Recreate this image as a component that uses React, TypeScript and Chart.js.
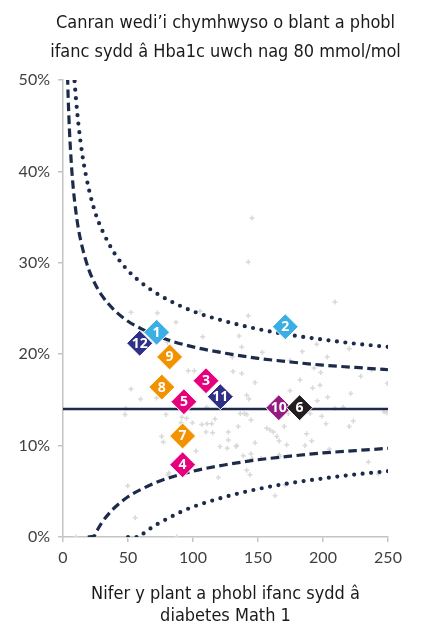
import React, { useEffect, useRef } from "react";
import { Chart, registerables } from "chart.js";

Chart.register(...registerables);

const titleLines = ["Canran wedi’i chymhwyso o blant a phobl", "ifanc sydd â Hba1c uwch nag 80 mmol/mol"];
const xTitleLines = ["Nifer y plant a phobl ifanc sydd â", "diabetes Math 1"];

// Units (providers), numbered diamonds
const providerLabels = ["12", "1", "2", "3", "11", "4", "5", "7", "8", "9", "10", "6"];
const providerN = [59, 72, 171, 110, 121, 92, 93, 92, 76, 82, 166, 182];
const providerPct = [21.2, 22.4, 23.0, 17.1, 15.35, 7.9, 14.8, 11.05, 16.4, 19.7, 14.15, 14.15];
const providerColors = ["#2E2F86", "#3BAEE3", "#3BAEE3", "#E6007E", "#2E2F86", "#E6007E", "#E6007E", "#F39200", "#F39200", "#F39200", "#951B81", "#231F20"];

// National mean
const meanN = [0, 250];
const meanPct = [14, 14];

// 95% limits (dashed)
const upper95N = [3.5, 4, 5, 6, 7, 8, 10, 12, 15, 20, 25, 30, 40, 50, 60, 75, 100, 125, 150, 175, 200, 225, 250];
const upper95Pct = [50.4, 48.0, 44.4, 41.8, 39.7, 38.0, 35.5, 33.6, 31.6, 29.2, 27.6, 26.4, 24.75, 23.6, 22.8, 21.85, 20.8, 20.1, 19.55, 19.15, 18.8, 18.55, 18.3];
const lower95N = [19, 24, 25, 27, 30, 35, 40, 50, 60, 75, 100, 125, 150, 175, 200, 225, 250];
const lower95Pct = [0, 0.1, 0.4, 0.9, 1.6, 2.5, 3.25, 4.4, 5.2, 6.15, 7.2, 7.9, 8.45, 8.85, 9.2, 9.45, 9.7];

// 99.8% limits (dotted)
const upper998N = [8.5, 9, 10, 12, 15, 20, 25, 30, 40, 50, 60, 75, 100, 125, 150, 175, 200, 225, 250];
const upper998Pct = [50.8, 49.7, 47.9, 45.0, 41.7, 38.0, 35.4, 33.6, 30.95, 29.15, 27.85, 26.4, 24.7, 23.6, 22.75, 22.1, 21.6, 21.15, 20.8];
const lower998N = [50, 59, 62, 65, 70, 75, 90, 100, 125, 150, 175, 200, 225, 250];
const lower998Pct = [0, 0, 0.4, 0.7, 1.2, 1.6, 2.7, 3.3, 4.4, 5.25, 5.9, 6.4, 6.85, 7.2];

// Other units (grey crosses)
const otherN = [52.3, 72.6, 86.9, 52.3, 59.7, 72, 48.2, 47.7, 79.2, 80.3, 96.4, 101, 91.5, 90.8, 106.7, 110.5, 114.4, 116.9, 110, 115.1,
  75.9, 77.2, 127.2, 127.2, 120.8, 133.6, 147.7, 134.8, 141.3, 130.8, 137.5, 147.7, 182.3, 184.1, 187.4, 166.4, 156.7, 161.8, 164.4, 172.1,
  145.2, 141.3, 143.8, 142.5, 107.5, 119.5, 153.3, 130.2, 174.6, 141.3, 143, 136.4, 139.5, 173.3, 174.6, 209.2, 195.1, 220.2, 203.3, 193.1,
  198.2, 237.4, 229, 197.7, 192, 249.5, 221.3, 203.6, 195.6, 209.2, 215.6, 246.9, 249, 190, 199, 81.5, 80.8, 49.8, 55.6, 9.8,
  87.5, 119.5, 163.1, 170.8, 234.9, 242.6, 95.1, 99.5, 110.8, 144.6, 159.2, 170.2, 166.2, 102.3, 144.6, 138.7, 152.3, 166.9, 202.3, 223.3,
  220.2, 191.3, 186.2, 204.9, 105.4, 135.4, 137.5, 145.4, 142.5, 126.4, 133.1];
const otherPct = [24.6, 24.5, 23.5, 16.2, 15.1, 15.2, 14.1, 13.4, 13.4, 21.3, 18.2, 18.2, 13.1, 12.5, 12.3, 14.2, 12.4, 12.9, 11.5, 11.4,
  11.0, 10.4, 11.5, 10.6, 9.9, 10.0, 10.3, 12.1, 13.4, 18.1, 17.9, 16.9, 17.2, 20.3, 11.3, 9.0, 11.9, 11.5, 11.0, 10.1,
  8.6, 7.3, 6.8, 24.2, 21.9, 20.3, 20.2, 19.7, 19.3, 15.5, 15.1, 13.5, 13.5, 13.5, 16.0, 25.7, 21.1, 20.6, 19.7, 18.5,
  18.0, 18.3, 17.6, 16.6, 16.3, 16.8, 15.7, 15.3, 14.9, 14.1, 14.2, 13.7, 13.6, 13.5, 13.2, 7.0, 6.8, 5.6, 2.1, 0,
  0, 6.5, 4.5, 5.7, 8.2, 6.9, 13.0, 12.5, 12.4, 12.8, 11.7, 12.1, 10.5, 9.4, 9.1, 8.9, 8.6, 8.8, 12.4, 12.7,
  12.1, 10.5, 10.0, 9.6, 24.7, 22.0, 20.8, 34.9, 30.1, 9.7, 9.9];

const xTicks = [0, 50, 100, 150, 200, 250];
const yTicks = [0, 10, 20, 30, 40, 50];

const NAVY = "#1D2B4B";
const TITLE_FONT = '"DejaVu Sans Condensed", "DejaVu Sans"';

const pts = (xs: number[], ys: number[]) => xs.map((x, i) => ({ x, y: ys[i] }));

const labelPlugin = {
  id: "diamondLabels",
  afterDatasetsDraw(chart: any) {
    const meta = chart.getDatasetMeta(0);
    const ctx = chart.ctx;
    ctx.save();
    ctx.font = 'bold 14px "Open Sans"';
    ctx.fillStyle = "#ffffff";
    ctx.textAlign = "center";
    ctx.textBaseline = "middle";
    meta.data.forEach((el: any, i: number) => {
      ctx.fillText(providerLabels[i], el.x, el.y + 0.5);
    });
    ctx.restore();
  },
};

// Chart title centred over the plot area
const titlePlugin = {
  id: "plotTitle",
  afterDraw(chart: any) {
    const { ctx, chartArea } = chart;
    ctx.save();
    ctx.font = `18px ${TITLE_FONT}`;
    ctx.fillStyle = "#1a1a1a";
    ctx.textAlign = "center";
    ctx.textBaseline = "alphabetic";
    const cx = (chartArea.left + chartArea.right) / 2;
    ctx.fillText(titleLines[0], cx, 27.5);
    ctx.fillText(titleLines[1], cx, 56.5);
    ctx.restore();
  },
};

export default function App() {
  const ref = useRef<HTMLCanvasElement | null>(null);
  useEffect(() => {
    if (!ref.current) return;
    const chart = new Chart(ref.current, {
      type: "scatter",
      data: {
        datasets: [
          {
            label: "Units",
            data: pts(providerN, providerPct),
            pointStyle: "rectRot",
            pointRadius: 13,
            pointBackgroundColor: providerColors,
            pointBorderColor: "#ffffff",
            pointBorderWidth: 1,
            showLine: false,
          },
          {
            label: "Mean",
            data: pts(meanN, meanPct),
            showLine: true,
            borderColor: NAVY,
            borderWidth: 2.5,
            pointRadius: 0,
          },
          {
            label: "Upper 95",
            data: pts(upper95N, upper95Pct),
            showLine: true,
            borderColor: NAVY,
            borderWidth: 3.2,
            borderDash: [8.5, 4.5],
            cubicInterpolationMode: "monotone",
            pointRadius: 0,
          },
          {
            label: "Lower 95",
            data: pts(lower95N, lower95Pct),
            showLine: true,
            borderColor: NAVY,
            borderWidth: 3.2,
            borderDash: [8.5, 4.5],
            cubicInterpolationMode: "monotone",
            pointRadius: 0,
          },
          {
            label: "Upper 99.8",
            data: pts(upper998N, upper998Pct),
            showLine: true,
            borderColor: NAVY,
            borderWidth: 4.2,
            borderDash: [0, 8.5],
            borderCapStyle: "round",
            cubicInterpolationMode: "monotone",
            pointRadius: 0,
          },
          {
            label: "Lower 99.8",
            data: pts(lower998N, lower998Pct),
            showLine: true,
            borderColor: NAVY,
            borderWidth: 4.2,
            borderDash: [0, 8.5],
            borderCapStyle: "round",
            cubicInterpolationMode: "monotone",
            pointRadius: 0,
          },
          {
            label: "Other units",
            data: pts(otherN, otherPct),
            pointStyle: "cross",
            pointRadius: 2.5,
            pointBorderColor: "#D9D9D9",
            pointBorderWidth: 1.5,
            showLine: false,
          },
        ] as any,
      },
      options: {
        animation: false,
        responsive: false,
        devicePixelRatio: 1,
        layout: { padding: { left: 0, right: 34, top: 80, bottom: 0 } },
        plugins: {
          legend: { display: false },
          tooltip: { enabled: false },
          title: { display: false },
        },
        scales: {
          x: {
            type: "linear",
            min: 0,
            max: 250,
            afterFit: (s: any) => { s.height = 87; },
            afterBuildTicks: (s: any) => { s.ticks = xTicks.map((v) => ({ value: v })); },
            ticks: { color: "#404040", font: { family: "Lato", size: 16 }, padding: 6, maxRotation: 0 },
            grid: { drawOnChartArea: false, drawTicks: true, tickLength: 5, color: "#C4C4C4", lineWidth: 1.5 },
            border: { color: "#C4C4C4", width: 1.5 },
            title: {
              display: true,
              text: xTitleLines,
              color: "#1a1a1a",
              font: { family: TITLE_FONT, size: 18, lineHeight: 1.22 },
              padding: { top: 0, bottom: -3 },
            },
          },
          y: {
            min: 0,
            max: 50,
            afterFit: (s: any) => { s.width = 63; },
            afterBuildTicks: (s: any) => { s.ticks = yTicks.map((v) => ({ value: v })); },
            ticks: { color: "#404040", font: { family: "Lato", size: 16 }, padding: 8, callback: (v: any) => v + "%" },
            grid: { drawOnChartArea: false, drawTicks: true, tickLength: 5, color: "#C4C4C4", lineWidth: 1.5 },
            border: { color: "#C4C4C4", width: 1.5 },
          },
        },
      },
      plugins: [labelPlugin, titlePlugin],
    });
    return () => chart.destroy();
  }, []);
  return (
    <div style={{ position: "absolute", left: 0, top: 0, width: 422, height: 624 }}>
      <canvas ref={ref} width={422} height={624} style={{ display: "block", width: 422, height: 624 }} />
    </div>
  );
}
